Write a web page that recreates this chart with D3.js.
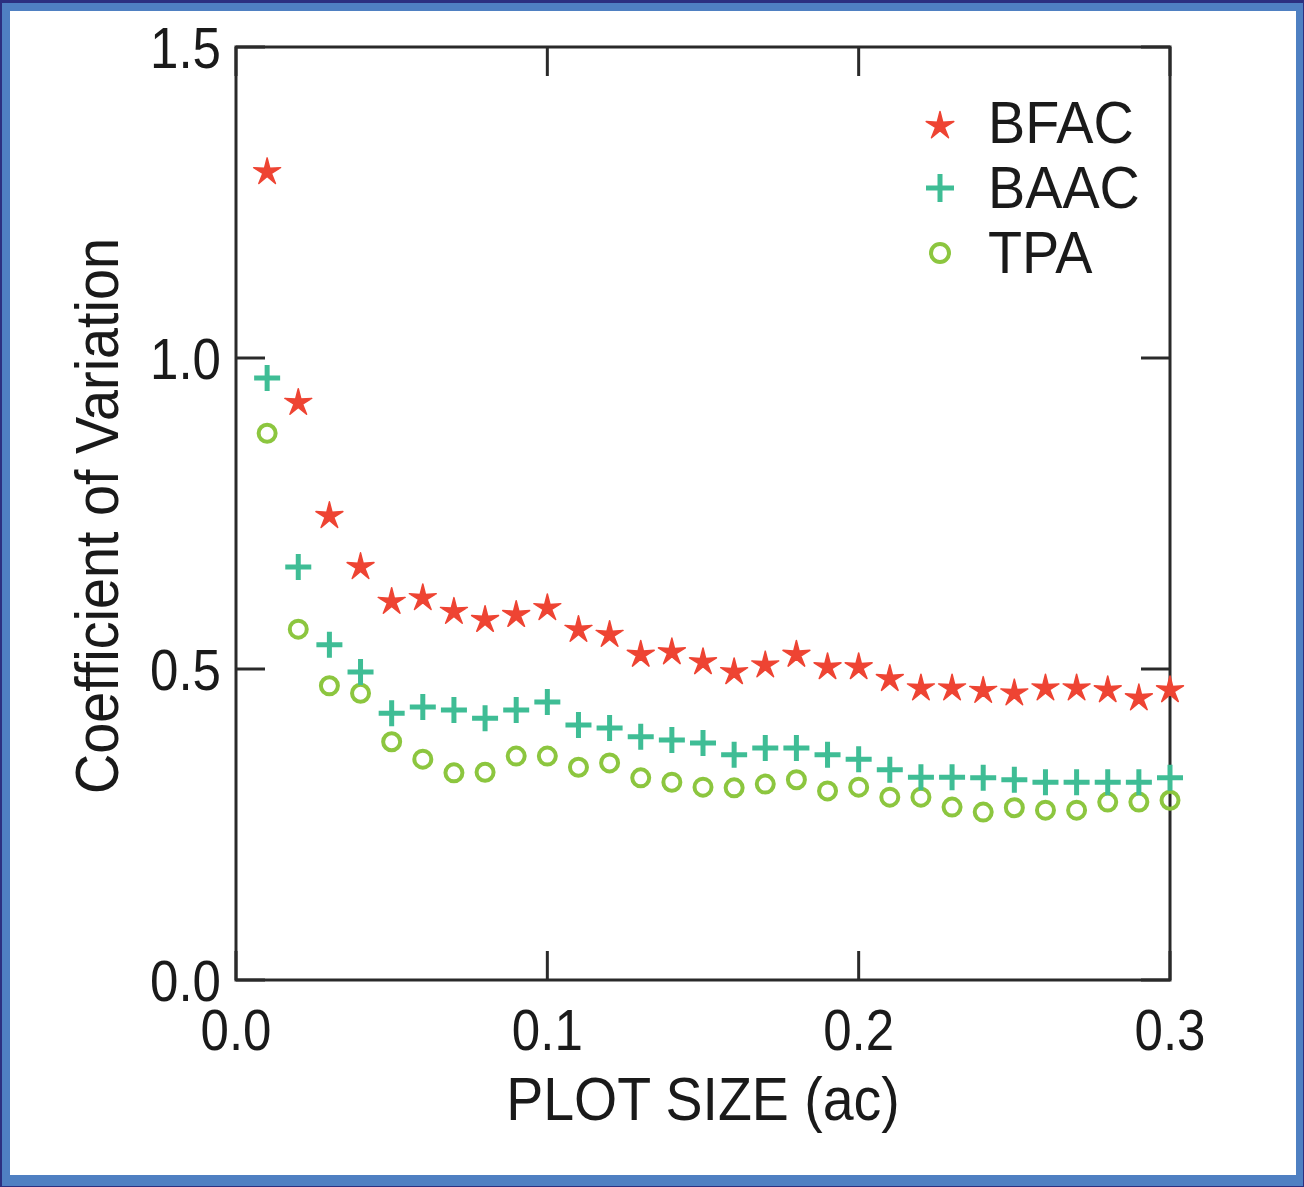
<!DOCTYPE html>
<html>
<head>
<meta charset="utf-8">
<script src="https://cdn.jsdelivr.net/npm/d3@7"></script>
<style>
body{margin:0;padding:0;background:#2c3080;}
text{font-family:"Liberation Sans",Arial,sans-serif;fill:#1a1a1a;}
</style>
</head>
<body>
<div id="chart"></div>
<script>
// plot size (ac) and coefficient of variation
var plotSize=[0.01,0.02,0.03,0.04,0.05,0.06,0.07,0.08,0.09,0.10,0.11,0.12,0.13,0.14,0.15,
              0.16,0.17,0.18,0.19,0.20,0.21,0.22,0.23,0.24,0.25,0.26,0.27,0.28,0.29,0.30];
var bfac=[1.299,0.928,0.746,0.664,0.608,0.614,0.592,0.579,0.587,0.598,0.563,0.555,0.523,0.527,0.511,
          0.495,0.506,0.523,0.503,0.503,0.484,0.469,0.469,0.465,0.461,0.469,0.469,0.466,0.453,0.466];
var baac=[0.968,0.664,0.539,0.495,0.429,0.439,0.434,0.421,0.434,0.447,0.410,0.405,0.391,0.386,0.381,
          0.362,0.373,0.373,0.362,0.355,0.338,0.326,0.326,0.325,0.322,0.318,0.318,0.318,0.318,0.325];
var tpa=[0.879,0.564,0.473,0.461,0.383,0.355,0.333,0.334,0.360,0.360,0.342,0.349,0.325,0.318,0.310,
         0.309,0.315,0.322,0.304,0.310,0.294,0.294,0.278,0.270,0.277,0.273,0.273,0.286,0.286,0.289];
var seriesNames=["BFAC","BAAC","TPA"];
var xTicks=[0,0.1,0.2,0.3];
var yTicks=[0,0.5,1.0,1.5];

var W=1304,H=1187;
var colStar="#ee4433",colPlus="#3fbd95",colCirc="#8cc63f";
var squish=0.88;

var svg=d3.select("#chart").append("svg")
	.attr("width",W)
	.attr("height",H)
	.style("display","block");

// slide frame
svg.append("rect").attr("x",0).attr("y",0).attr("width",W).attr("height",H).style("fill","#2c3080");
svg.append("rect").attr("x",2).attr("y",3).attr("width",W-3).attr("height",H-4).style("fill","#4f80c2");
svg.append("rect").attr("x",10).attr("y",11).attr("width",W-18).attr("height",H-23).style("fill","#ffffff");

var x=d3.scaleLinear().domain([0,0.3]).range([236,1170]);
var y=d3.scaleLinear().domain([0,1.5]).range([980,47]);

var g=svg.append("g");

// box
g.append("rect")
	.attr("x",x(0)).attr("y",y(1.5))
	.attr("width",x(0.3)-x(0)).attr("height",y(0)-y(1.5))
	.style("fill","none").style("stroke","#2a2a2a").style("stroke-width","3px");

// inward ticks on all four sides
var tl=29;
xTicks.forEach(function(t){
	g.append("line").attr("x1",x(t)).attr("x2",x(t)).attr("y1",y(0)).attr("y2",y(0)-tl)
		.style("stroke","#2a2a2a").style("stroke-width","3px");
	g.append("line").attr("x1",x(t)).attr("x2",x(t)).attr("y1",y(1.5)).attr("y2",y(1.5)+tl)
		.style("stroke","#2a2a2a").style("stroke-width","3px");
	g.append("text")
		.attr("transform","translate("+x(t)+",1050) scale("+squish+",1)")
		.style("text-anchor","middle").style("font-size","58px")
		.text(d3.format(".1f")(t));
});
yTicks.forEach(function(t){
	g.append("line").attr("x1",x(0)).attr("x2",x(0)+tl).attr("y1",y(t)).attr("y2",y(t))
		.style("stroke","#2a2a2a").style("stroke-width","3px");
	g.append("line").attr("x1",x(0.3)).attr("x2",x(0.3)-tl).attr("y1",y(t)).attr("y2",y(t))
		.style("stroke","#2a2a2a").style("stroke-width","3px");
	g.append("text")
		.attr("transform","translate(221,"+(y(t)+21)+") scale("+squish+",1)")
		.style("text-anchor","end").style("font-size","58px")
		.text(d3.format(".1f")(t));
});

// axis titles
g.append("text")
	.attr("transform","translate(703,1120) scale(0.895,1)")
	.style("text-anchor","middle").style("font-size","62px")
	.text("PLOT SIZE (ac)");
g.append("text")
	.attr("transform","translate(118,516) rotate(-90) scale(0.9,1)")
	.style("text-anchor","middle").style("font-size","62px")
	.text("Coefficient of Variation");

// thin-armed star like the original plotting symbol
var thinStar={
	draw:function(ctx,size){
		var ro=Math.sqrt(size),ri=ro*0.32;
		for(var k=0;k<10;k++){
			var r=k%2==0?ro:ri;
			var a=Math.PI*k/5-Math.PI/2;
			if(k==0) ctx.moveTo(r*Math.cos(a),r*Math.sin(a));
			else ctx.lineTo(r*Math.cos(a),r*Math.sin(a));
		}
		ctx.closePath();
	}
};

function drawStar(sel,cx,cy,size){
	sel.append("path")
		.attr("d",d3.symbol().type(thinStar).size(size)())
		.attr("transform","translate("+cx+","+cy+")")
		.style("fill",colStar)
		.style("stroke",colStar).style("stroke-width","1.5px").style("stroke-linejoin","round");
}
function drawPlus(sel,cx,cy,h){
	sel.append("path")
		.attr("d","M"+(-h)+",0H"+h+"M0,"+(-h)+"V"+h)
		.attr("transform","translate("+cx+","+cy+")")
		.style("stroke",colPlus).style("stroke-width","5px").style("fill","none");
}
function drawCirc(sel,cx,cy,r){
	sel.append("circle").attr("cx",cx).attr("cy",cy).attr("r",r)
		.style("fill","none").style("stroke",colCirc).style("stroke-width","4px");
}

var pts=g.append("g").attr("class","points");
plotSize.forEach(function(p,i){
	drawCirc(pts,x(p),y(tpa[i]),8.5);
});
plotSize.forEach(function(p,i){
	drawPlus(pts,x(p),y(baac[i]),13);
});
plotSize.forEach(function(p,i){
	drawStar(pts,x(p),y(bfac[i]),200);
});

// legend
var leg=g.append("g");
var legY=[143,208,273];
drawStar(leg,940,126,210);
drawPlus(leg,940,188,14);
drawCirc(leg,940,253,9);
seriesNames.forEach(function(n,i){
	leg.append("text")
		.attr("transform","translate(988,"+legY[i]+") scale(0.93,1)")
		.style("font-size","60px")
		.text(n);
});
</script>
</body>
</html>
